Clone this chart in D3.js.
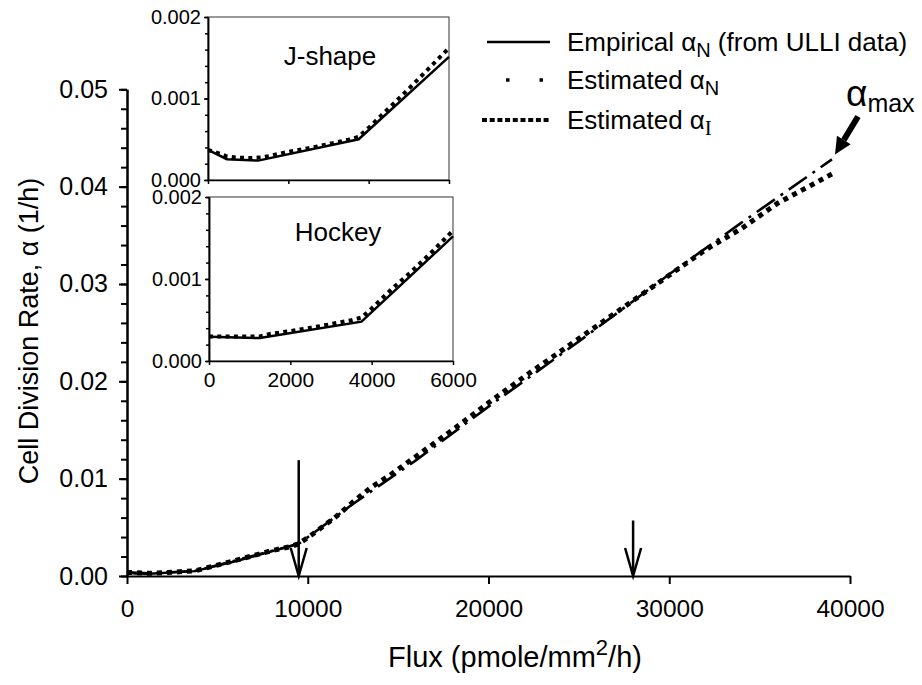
<!DOCTYPE html>
<html>
<head>
<meta charset="utf-8">
<script src="https://cdn.jsdelivr.net/npm/d3@7"></script>
<style>
body { margin: 0; background: #fff; }
svg text { font-family: "Liberation Sans", Arial, sans-serif; fill: #000; }
</style>
</head>
<body>
<svg id="chart" width="922" height="685"></svg>
<script>
// ---- main panel data (flux in pmole/mm2/h, alpha in 1/h) ----
let empFlux = [0, 470, 1250, 3750, 6000, 9500]
let empAlpha = [0.00037, 0.000255, 0.000238, 0.0005, 0.00151, 0.0033]

let estIFlux = [0, 1250, 2500, 3750, 5000, 6000, 7000, 8000, 9000, 9500, 10500, 11500, 12500, 13500, 14500, 16000, 18000, 20000, 22000, 25000, 28000, 30000, 32000, 34000, 36000, 38000, 39000]
let estIAlpha = [0.00037, 0.00028, 0.00039, 0.00053, 0.00112, 0.0016, 0.0021, 0.0026, 0.003, 0.0033, 0.0046, 0.006, 0.0076, 0.0091, 0.0103, 0.0123, 0.015, 0.0178, 0.0205, 0.0244, 0.0283, 0.0309, 0.0335, 0.0357, 0.0383, 0.0403, 0.0413]

let estNFlux = [0, 1250, 3750, 6000, 9500, 12500, 16000, 20000, 25000, 30000, 34000, 39000]
let estNAlpha = [0.00037, 0.00028, 0.00052, 0.0016, 0.0033, 0.0074, 0.0119, 0.0174, 0.0241, 0.031, 0.0363, 0.0428]

let xTicks = [0, 10000, 20000, 30000, 40000]
let yTicks = [0, 0.01, 0.02, 0.03, 0.04, 0.05]

// ---- insets ----
let jEmpFlux = [0, 470, 1250, 3750, 6000]
let jEmpAlpha = [0.00037, 0.000255, 0.000238, 0.0005, 0.00151]
let jEstFlux = [0, 250, 470, 700, 1100, 1300, 1500, 1750, 2000, 2500, 3000, 3500, 3750, 4000, 4500, 5000, 5500, 6000]
let jEstAlpha = [0.00037, 0.00033, 0.00029, 0.000275, 0.00027, 0.000278, 0.000293, 0.00032, 0.000345, 0.00039, 0.00044, 0.000495, 0.00053, 0.00064, 0.00088, 0.00112, 0.00137, 0.00162]

let hEmpFlux = [0, 1250, 3750, 6000]
let hEmpAlpha = [0.000295, 0.00028, 0.00048, 0.00152]
let hEstFlux = [0, 1250, 1500, 2000, 2500, 3000, 3500, 3750, 4000, 4500, 5000, 5500, 6000]
let hEstAlpha = [0.0003, 0.0003, 0.00033, 0.000365, 0.000405, 0.00045, 0.000498, 0.00053, 0.00064, 0.00088, 0.0011, 0.00134, 0.00159]

let insetXTicks = [0, 2000, 4000, 6000]
let insetYTicks = [0, 0.001, 0.002]

// arrows (data coords)
let marks = [9500, 28000]
let arrowTops = [0.0119, 0.0057]
let amStart = [40443, 0.0472]
let amTip = [39170, 0.0433]

let svg = d3.select('#chart')

let xScale = d3.scaleLinear().domain([0, 40000]).range([127, 850])
let yScale = d3.scaleLinear().domain([0, 0.05]).range([576, 89.3])

let zip = (xs, ys) => xs.map((x, i) => [x, ys[i]])

let styleAxis = (g, w) => {
  g.select('.domain').attr('stroke-width', w)
  g.selectAll('.tick line').attr('stroke-width', w)
}

// ---- main axes ----
let xAxis = svg.append('g')
  .attr('transform', 'translate(0,' + yScale(0) + ')')
  .call(d3.axisBottom(xScale).tickValues(xTicks).tickSize(8).tickSizeOuter(0).tickPadding(16).tickFormat(d3.format('d')))
xAxis.selectAll('text').style('font-size', '24.5px')
styleAxis(xAxis, 2)

let yMinor = svg.append('g')
  .attr('transform', 'translate(' + xScale(0) + ',0)')
  .call(d3.axisLeft(yScale).tickValues(d3.range(0, 0.0501, 0.002)).tickSize(6).tickSizeOuter(0).tickFormat(''))
styleAxis(yMinor, 2)

let yAxis = svg.append('g')
  .attr('transform', 'translate(' + xScale(0) + ',0)')
  .call(d3.axisLeft(yScale).tickValues(yTicks).tickSize(8).tickSizeOuter(0).tickPadding(11).tickFormat(d3.format('.2f')))
yAxis.selectAll('text').style('font-size', '25px')
styleAxis(yAxis, 2)

svg.append('text')
  .attr('x', 388).attr('y', 667)
  .style('font-size', '29px')
  .html('Flux (pmole/mm<tspan dy="-12" style="font-size:22px">2</tspan><tspan dy="12">/h)</tspan>')

svg.append('text')
  .attr('transform', 'translate(38,331) rotate(-90)')
  .attr('text-anchor', 'middle')
  .style('font-size', '27px')
  .text('Cell Division Rate, \u03b1 (1/h)')

// ---- main lines ----
let line = d3.line().x(d => xScale(d[0])).y(d => yScale(d[1]))

svg.append('path').datum(zip(estNFlux, estNAlpha))
  .attr('d', line).attr('fill', 'none').attr('stroke', '#000')
  .attr('stroke-width', 2.6).attr('stroke-dasharray', '22,7,3,7')

svg.append('path').datum(zip(estIFlux, estIAlpha))
  .attr('d', line).attr('fill', 'none').attr('stroke', '#000')
  .attr('stroke-width', 5).attr('stroke-dasharray', '5,5')

svg.append('path').datum(zip(empFlux, empAlpha))
  .attr('d', line).attr('fill', 'none').attr('stroke', '#000')
  .attr('stroke-width', 2.5)

// ---- vertical arrows ----
marks.forEach((m, i) => {
  let x = xScale(m), y0 = yScale(arrowTops[i]), y1 = yScale(0)
  svg.append('line').attr('x1', x).attr('x2', x).attr('y1', y0).attr('y2', y1 - 2)
    .attr('stroke', '#000').attr('stroke-width', 2.5)
  svg.append('path')
    .attr('d', 'M' + (x - 8) + ',' + (y1 - 28) + 'L' + x + ',' + y1 + 'L' + (x + 8) + ',' + (y1 - 28))
    .attr('fill', 'none').attr('stroke', '#000').attr('stroke-width', 2.5)
})

// ---- alpha max arrow ----
{
  let x0 = xScale(amStart[0]), y0 = yScale(amStart[1])
  let x1 = xScale(amTip[0]), y1 = yScale(amTip[1])
  let ang = Math.atan2(y1 - y0, x1 - x0)
  let hl = 17, hw = 8
  let bx = x1 - hl * Math.cos(ang), by = y1 - hl * Math.sin(ang)
  svg.append('line').attr('x1', x0).attr('y1', y0).attr('x2', bx).attr('y2', by)
    .attr('stroke', '#000').attr('stroke-width', 6)
  svg.append('path')
    .attr('d', 'M' + x1 + ',' + y1 +
      'L' + (bx + hw * Math.sin(ang)) + ',' + (by - hw * Math.cos(ang)) +
      'L' + (bx - hw * Math.sin(ang)) + ',' + (by + hw * Math.cos(ang)) + 'Z')
    .attr('fill', '#000')
}
svg.append('text').attr('x', 846).attr('y', 106).style('font-size', '37px')
  .html('\u03b1<tspan dy="6" style="font-size:25px">max</tspan>')

// ---- legend ----
let lg = svg.append('g')
lg.append('line').attr('x1', 487).attr('x2', 550).attr('y1', 42).attr('y2', 42)
  .attr('stroke', '#000').attr('stroke-width', 2.5)
lg.append('line').attr('x1', 506).attr('x2', 545).attr('y1', 80).attr('y2', 80)
  .attr('stroke', '#000').attr('stroke-width', 3.5).attr('stroke-dasharray', '3.5,30')
lg.append('line').attr('x1', 482).attr('x2', 550).attr('y1', 120).attr('y2', 120)
  .attr('stroke', '#000').attr('stroke-width', 4).attr('stroke-dasharray', '5,2.7')

lg.append('text').attr('x', 567).attr('y', 51).style('font-size', '26px')
  .html('Empirical \u03b1<tspan dy="6" style="font-size:20px">N</tspan><tspan dy="-6"> (from ULLI data)</tspan>')
lg.append('text').attr('x', 567).attr('y', 89).style('font-size', '26px')
  .html('Estimated \u03b1<tspan dy="6" style="font-size:20px">N</tspan>')
lg.append('text').attr('x', 567).attr('y', 129).style('font-size', '26px')
  .html('Estimated \u03b1<tspan dy="6" style="font-size:21px;font-family:\'Liberation Serif\',serif">I</tspan>')

// ---- insets ----
let drawInset = (x0, x1, y0, y1, name, nameX, nameY, empF, empA, estF, estA, showXLabels) => {
  let ix = d3.scaleLinear().domain([0, 6000]).range([x0, x1])
  let iy = d3.scaleLinear().domain([0, 0.002]).range([y1, y0])
  let g = svg.append('g')
  g.append('rect').attr('x', x0).attr('y', y0).attr('width', x1 - x0).attr('height', y1 - y0)
    .attr('fill', '#fff').attr('stroke', '#333').attr('stroke-width', 1)

  let clipId = 'clip' + name.replace(/\W/g, '')
  g.append('clipPath').attr('id', clipId).append('rect')
    .attr('x', x0).attr('y', y0 - 5).attr('width', x1 - x0 + 2).attr('height', y1 - y0 + 5)

  let il = d3.line().x(d => ix(d[0])).y(d => iy(d[1]))
  g.append('path').datum(zip(estF, estA)).attr('d', il)
    .attr('clip-path', 'url(#' + clipId + ')')
    .attr('fill', 'none').attr('stroke', '#000').attr('stroke-width', 4).attr('stroke-dasharray', '4,4.3')
  g.append('path').datum(zip(empF, empA)).attr('d', il)
    .attr('fill', 'none').attr('stroke', '#000').attr('stroke-width', 2.5)

  let ym = g.append('g').attr('transform', 'translate(' + x0 + ',0)')
    .call(d3.axisLeft(iy).tickValues(d3.range(0, 0.00201, 0.0002)).tickSize(3).tickSizeOuter(0).tickFormat(''))
  styleAxis(ym, 1.5)
  let ya = g.append('g').attr('transform', 'translate(' + x0 + ',0)')
    .call(d3.axisLeft(iy).tickValues(insetYTicks).tickSize(4).tickSizeOuter(0).tickPadding(3).tickFormat(d3.format('.3f')))
  ya.selectAll('text').style('font-size', '20px')
  styleAxis(ya, 1.5)

  let xa = g.append('g').attr('transform', 'translate(0,' + y1 + ')')
    .call(d3.axisBottom(ix).tickValues(insetXTicks).tickSize(4).tickSizeOuter(0).tickPadding(7)
      .tickFormat(showXLabels ? d3.format('d') : ''))
  xa.selectAll('text').style('font-size', '21px')
  styleAxis(xa, 1.5)

  g.append('text').attr('x', nameX).attr('y', nameY).attr('text-anchor', 'middle')
    .style('font-size', '26px').text(name)
}

drawInset(208, 449, 17, 180, 'J-shape', 330, 65, jEmpFlux, jEmpAlpha, jEstFlux, jEstAlpha, false)
drawInset(209, 453, 197, 361, 'Hockey', 338, 241, hEmpFlux, hEmpAlpha, hEstFlux, hEstAlpha, true)
</script>
</body>
</html>
